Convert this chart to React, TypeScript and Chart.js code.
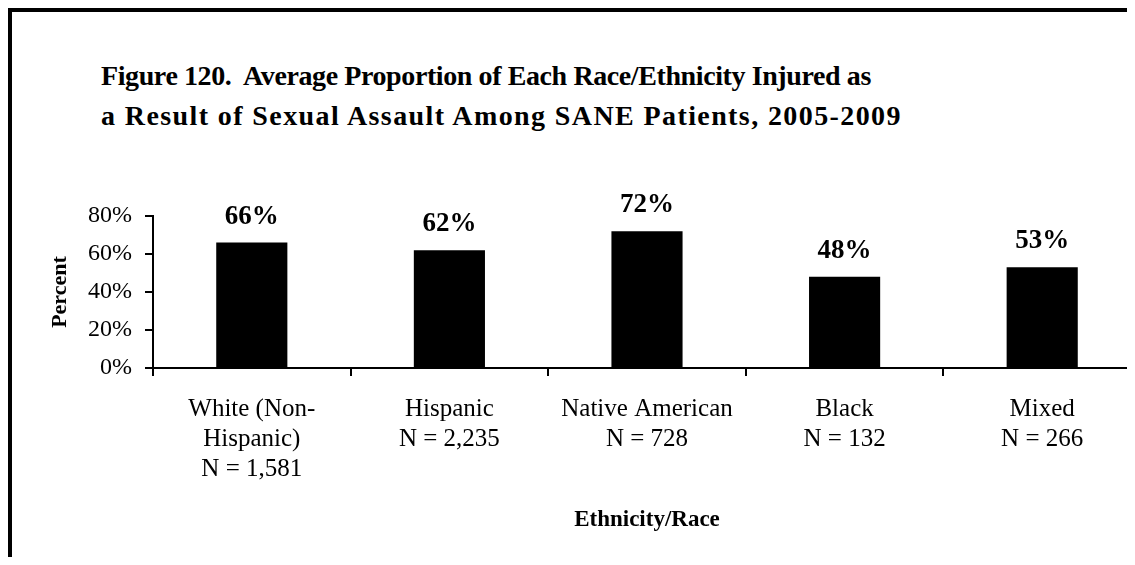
import React, { useEffect, useRef } from "react";
import { Chart, registerables } from "chart.js";

Chart.register(...registerables);

const FAMILY = "'Liberation Serif', 'Times New Roman', serif";

const titleLines = [
  "Figure 120.  Average Proportion of Each Race/Ethnicity Injured as",
  "a Result of Sexual Assault Among SANE Patients, 2005-2009",
];
const titleSpacing = [-0.4, 1.4];
const categories = [
  ["White (Non-", "Hispanic)", "N = 1,581"],
  ["Hispanic", "N = 2,235"],
  ["Native American", "N = 728"],
  ["Black", "N = 132"],
  ["Mixed", "N = 266"],
];
const values = [66, 62, 72, 48, 53];
const yTicks = [0, 20, 40, 60, 80];
const yAxisTitle = "Percent";
const xAxisTitle = "Ethnicity/Race";

const valueLabels = {
  id: "valueLabels",
  afterDatasetsDraw(chart: any) {
    const ctx = chart.ctx;
    const meta = chart.getDatasetMeta(0);
    ctx.save();
    ctx.font = `bold 27px ${FAMILY}`;
    ctx.fillStyle = "#000";
    ctx.textAlign = "center";
    ctx.textBaseline = "alphabetic";
    meta.data.forEach((bar: any, i: number) => {
      ctx.fillText(`${values[i]}%`, bar.x, bar.y - 19);
    });
    ctx.restore();
  },
};

export default function App() {
  const ref = useRef<HTMLCanvasElement | null>(null);

  useEffect(() => {
    if (!ref.current) return;
    const chart = new Chart(ref.current, {
      type: "bar",
      data: {
        labels: categories,
        datasets: [
          {
            data: values,
            backgroundColor: "#000",
            borderWidth: 0,
            categoryPercentage: 1,
            barPercentage: 0.36,
          },
        ],
      },
      options: {
        responsive: false,
        animation: false,
        devicePixelRatio: 1,
        layout: { padding: { top: 204, left: 20, right: 0, bottom: 12 } },
        plugins: {
          legend: { display: false },
          tooltip: { enabled: false },
          title: { display: false },
        },
        scales: {
          x: {
            offset: true,
            ticks: {
              color: "#000",
              font: { family: FAMILY, size: 25, lineHeight: 1.2 },
              padding: 18,
              maxRotation: 0,
              autoSkip: false,
            },
            grid: {
              offset: true,
              drawOnChartArea: false,
              drawTicks: true,
              tickLength: 8,
              color: "#000",
              lineWidth: 2,
            },
            border: { display: true, color: "#000", width: 2 },
            title: {
              display: true,
              text: xAxisTitle,
              color: "#000",
              font: { family: FAMILY, size: 23, weight: "bold" },
              padding: { top: 0, bottom: 11 },
            },
            afterFit: (s: any) => {
              s.height = 177;
            },
          },
          y: {
            min: 0,
            max: 80,
            afterBuildTicks: (s: any) => {
              s.ticks = yTicks.map((v) => ({ value: v }));
            },
            ticks: {
              color: "#000",
              font: { family: FAMILY, size: 24 },
              padding: 13,
              callback: (v: any) => `${v}%`,
            },
            grid: {
              drawOnChartArea: false,
              drawTicks: true,
              tickLength: 8,
              color: "#000",
              lineWidth: 2,
            },
            border: { display: true, color: "#000", width: 2 },
            title: {
              display: true,
              text: yAxisTitle,
              color: "#000",
              font: { family: FAMILY, size: 22, weight: "bold" },
              padding: { top: 15, bottom: 0 },
            },
            afterFit: (s: any) => {
              s.width = 121;
            },
          },
        },
      },
      plugins: [valueLabels],
    } as any);
    return () => chart.destroy();
  }, []);

  return (
    <div
      style={{
        position: "relative",
        width: 1127,
        height: 549,
        boxSizing: "border-box",
        borderTop: "4px solid #000",
        borderLeft: "4px solid #000",
        overflow: "hidden",
        background: "#fff",
      }}
    >
      <div
        style={{
          position: "absolute",
          left: 89,
          top: 44,
          font: `bold 28px ${FAMILY}`,
          lineHeight: "40px",
          whiteSpace: "pre",
          color: "#000",
        }}
      >
        {titleLines.map((t, i) => (
          <div key={i} style={{ letterSpacing: `${titleSpacing[i]}px` }}>
            {t}
          </div>
        ))}
      </div>
      <canvas
        ref={ref}
        width={1129}
        height={545}
        style={{ position: "absolute", left: 0, top: 0, width: 1129, height: 545 }}
      />
    </div>
  );
}
